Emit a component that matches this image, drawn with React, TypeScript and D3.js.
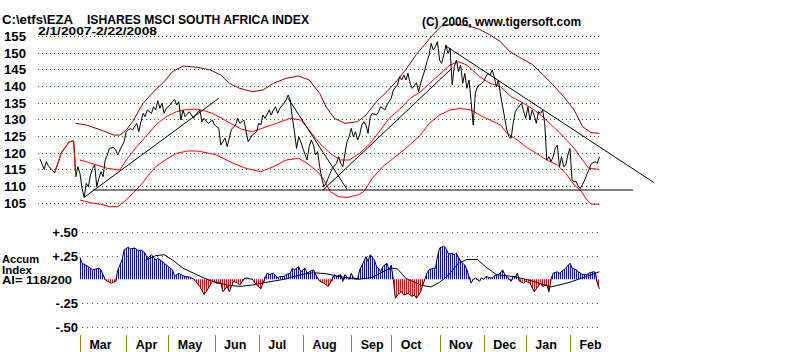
import React from 'react';
import * as d3 from 'd3';

const W = 800;
const H = 352;

// ---- Price series (trading day index from 2/1/2007, close) ----
const priceDays = [0, 2, 3, 4, 7, 9, 10, 12, 14, 16, 17, 18, 19, 20, 21, 22, 23, 24, 25, 26, 27, 28, 29, 30, 31, 32, 33, 35, 36, 37, 38, 40, 41, 43, 44, 46, 47, 48, 49, 50, 51, 53, 54, 55, 56, 57, 58, 59, 60, 62, 63, 64, 65, 66, 67, 68, 69, 71, 73, 74, 76, 77, 78, 80, 82, 83, 85, 86, 88, 89, 91, 93, 94, 95, 97, 98, 99, 101, 103, 104, 105, 106, 107, 109, 110, 111, 112, 113, 114, 116, 117, 118, 119, 120, 121, 122, 123, 124, 125, 127, 128, 129, 130, 131, 132, 133, 134, 135, 136, 137, 138, 139, 141, 142, 143, 144, 145, 146, 147, 148, 149, 150, 151, 152, 153, 154, 155, 156, 157, 158, 160, 161, 162, 164, 165, 166, 167, 168, 170, 171, 172, 173, 174, 175, 176, 177, 179, 180, 181, 183, 184, 185, 186, 187, 188, 189, 190, 191, 192, 193, 194, 195, 196, 197, 198, 199, 200, 201, 202, 203, 204, 205, 206, 207, 208, 210, 211, 212, 213, 214, 215, 216, 217, 218, 219, 220, 221, 222, 223, 224, 225, 226, 227, 229, 230, 231, 232, 233, 234, 235, 236, 237, 238, 239, 240, 241, 242, 243, 244, 245, 246, 247, 248, 249, 250, 251, 252, 253, 254, 255, 256, 257, 258, 259, 260, 261, 262, 263, 264, 265, 266];
const priceValues = [118.1, 115.0, 117.3, 116.0, 114.0, 117.8, 119.8, 121.6, 123.3, 123.5, 112.8, 115.8, 113.8, 109.3, 106.6, 110.8, 109.8, 113.3, 115.3, 116.3, 109.8, 112.3, 114.3, 112.8, 117.8, 119.3, 121.3, 121.6, 120.8, 119.3, 120.8, 123.3, 126.3, 127.3, 126.8, 128.8, 126.3, 129.3, 131.8, 130.8, 132.8, 131.8, 133.8, 132.8, 135.6, 133.3, 134.8, 131.8, 133.3, 134.3, 135.3, 136.0, 134.3, 135.3, 129.8, 132.8, 130.8, 132.3, 130.3, 131.3, 132.8, 129.3, 130.3, 128.8, 129.8, 128.3, 127.3, 122.3, 124.4, 121.8, 127.0, 128.3, 130.3, 128.8, 129.8, 126.3, 123.3, 125.3, 126.3, 128.8, 128.3, 131.3, 130.3, 132.8, 131.3, 132.8, 133.8, 131.8, 133.3, 134.8, 135.8, 137.3, 135.8, 130.3, 126.3, 121.3, 124.8, 123.3, 121.3, 117.8, 121.8, 123.8, 122.3, 119.3, 120.3, 115.8, 112.3, 109.8, 110.8, 112.3, 113.8, 115.3, 116.8, 118.8, 116.8, 115.8, 119.8, 123.3, 124.8, 127.3, 124.8, 126.3, 123.8, 125.3, 128.3, 129.3, 128.3, 125.8, 130.8, 131.8, 131.3, 132.3, 133.8, 132.8, 134.3, 135.3, 136.3, 138.8, 140.3, 142.8, 141.8, 143.3, 141.8, 143.8, 140.8, 139.3, 141.0, 138.3, 140.8, 144.8, 147.3, 149.3, 152.8, 150.8, 151.8, 153.3, 147.8, 146.8, 149.3, 152.3, 149.8, 151.3, 140.3, 145.8, 147.8, 144.3, 146.3, 140.8, 143.8, 139.3, 141.8, 135.3, 128.3, 137.8, 139.8, 140.8, 141.3, 142.8, 143.8, 143.3, 144.8, 142.8, 139.8, 141.8, 137.3, 133.8, 130.3, 126.8, 124.8, 124.3, 128.8, 132.3, 133.3, 134.8, 132.3, 130.3, 133.8, 129.8, 132.8, 131.3, 128.8, 132.3, 131.8, 132.8, 128.8, 117.8, 118.8, 117.3, 118.8, 121.3, 122.3, 115.8, 118.8, 115.8, 116.3, 119.3, 121.3, 111.8, 111.3, 111.3, 109.8, 109.3, 110.5, 111.8, 113.5, 114.8, 116.5, 117.0, 117.3, 116.8, 118.8];
const highlightFrom = 7;
const highlightTo = 17;

// ---- Bands ----
const upperDays = [17, 22, 29, 35, 38, 41, 44, 49, 54, 59, 63, 68, 75, 81, 86, 90, 95, 101, 106, 111, 117, 123, 128, 133, 136, 140, 145, 151, 155, 160, 165, 170, 174, 179, 183, 187, 191, 197, 204, 209, 214, 219, 223, 228, 234, 239, 244, 249, 254, 258, 262, 266];
const upperValues = [128.8, 128.3, 126.8, 125.3, 125.3, 126.8, 129.3, 134.8, 138.3, 141.3, 144.3, 146.0, 145.6, 144.8, 143.3, 140.8, 139.3, 138.3, 138.8, 140.8, 142.3, 143.0, 141.8, 137.8, 133.8, 130.3, 128.8, 129.3, 131.3, 135.3, 138.3, 141.8, 145.0, 149.5, 152.5, 155.5, 158.0, 158.6, 158.0, 157.0, 155.3, 153.3, 150.5, 148.6, 146.5, 143.5, 140.3, 136.8, 132.8, 127.8, 126.0, 125.8];
const midDays = [19, 22, 27, 32, 38, 41, 46, 51, 55, 60, 65, 70, 75, 78, 82, 86, 90, 96, 101, 111, 119, 124, 128, 133, 138, 143, 147, 152, 157, 162, 166, 171, 176, 181, 187, 195, 199, 203, 209, 214, 219, 224, 230, 235, 239, 244, 249, 254, 258, 261, 266];
const midValues = [117.8, 117.3, 116.3, 115.3, 114.8, 117.8, 121.8, 125.3, 128.3, 130.8, 132.3, 133.0, 133.0, 132.6, 131.8, 130.5, 129.0, 127.0, 126.3, 128.5, 130.3, 129.8, 126.8, 122.8, 119.8, 117.8, 117.8, 119.8, 122.8, 126.8, 130.3, 133.0, 136.3, 138.3, 141.8, 146.3, 147.3, 146.3, 142.8, 140.8, 139.8, 136.8, 134.8, 132.8, 130.8, 127.8, 124.8, 121.3, 117.8, 115.3, 115.0];
const lowerDays = [19, 24, 29, 33, 37, 41, 44, 48, 51, 55, 60, 65, 70, 75, 79, 84, 87, 92, 98, 105, 111, 117, 123, 127, 132, 135, 138, 142, 146, 151, 154, 158, 163, 168, 174, 181, 185, 190, 195, 200, 205, 209, 214, 219, 222, 227, 231, 236, 241, 246, 250, 254, 257, 260, 262, 266];
const lowerValues = [105.8, 105.0, 104.5, 103.8, 103.8, 105.8, 107.8, 110.3, 112.8, 115.8, 118.0, 119.8, 120.5, 120.5, 120.0, 119.3, 118.3, 116.8, 115.3, 114.3, 115.8, 117.8, 118.3, 116.8, 114.3, 111.8, 108.3, 106.8, 106.6, 107.3, 108.3, 112.3, 115.8, 118.3, 121.3, 125.3, 128.8, 131.3, 132.8, 133.3, 132.8, 131.3, 129.8, 128.3, 125.8, 123.8, 121.8, 119.8, 117.8, 116.3, 113.8, 110.3, 108.8, 105.8, 104.6, 104.5];

// ---- Trend lines (day, price) ----
const trendStartDays = [21, 25, 134.6, 118, 193];
const trendStartValues = [106.6, 108.8, 108.8, 136.3, 152.0];
const trendEndDays = [85, 282, 196, 146, 292];
const trendEndValues = [136.3, 108.8, 145.4, 109.0, 111.0];

// ---- Accumulation index ----
const accumDays = [19, 20, 23, 25, 28, 29, 31, 32, 34, 36, 37, 39, 40, 42, 43, 45, 47, 48, 50, 51, 53, 55, 56, 58, 59, 61, 63, 64, 66, 67, 69, 71, 73, 74, 76, 78, 79, 81, 82, 84, 86, 87, 89, 90, 92, 94, 95, 97, 98, 100, 101, 103, 105, 106, 108, 109, 111, 113, 114, 116, 117, 119, 120, 121, 123, 124, 126, 127, 128, 130, 132, 133, 135, 137, 138, 140, 141, 143, 144, 145, 147, 148, 149, 151, 152, 154, 155, 156, 157, 159, 160, 161, 162, 163, 165, 166, 167, 168, 169, 170, 172, 173, 175, 177, 178, 179, 181, 182, 183, 184, 185, 187, 188, 189, 190, 192, 193, 194, 195, 196, 197, 198, 200, 201, 202, 203, 204, 205, 206, 207, 209, 210, 211, 212, 214, 215, 217, 218, 220, 221, 222, 224, 225, 226, 227, 228, 230, 231, 233, 235, 236, 238, 239, 241, 242, 243, 244, 246, 247, 249, 250, 252, 253, 255, 256, 258, 260, 261, 263, 264, 265, 266];
const accumValues = [0.234, 0.17, 0.135, 0.10, 0.118, 0.10, -0.005, -0.02, -0.04, -0.02, 0.10, 0.205, 0.31, 0.34, 0.32, 0.33, 0.30, 0.31, 0.275, 0.22, 0.26, 0.205, 0.22, 0.19, 0.17, 0.135, 0.10, 0.03, 0.065, 0.05, 0.03, 0.025, 0.005, -0.02, -0.075, -0.16, -0.13, -0.06, -0.02, -0.04, -0.04, -0.13, -0.075, -0.13, -0.02, -0.04, -0.06, 0.005, 0.015, 0.005, 0.0, -0.06, -0.10, -0.04, 0.065, 0.05, 0.065, 0.015, 0.03, 0.03, 0.05, 0.065, 0.118, 0.10, 0.135, 0.08, 0.118, 0.065, 0.08, 0.10, 0.013, -0.02, -0.04, -0.075, -0.04, 0.05, 0.03, 0.05, -0.02, 0.05, 0.0, 0.065, 0.015, 0.005, 0.10, 0.19, 0.24, 0.19, 0.26, 0.205, 0.135, 0.118, 0.08, 0.135, 0.17, 0.10, 0.15, 0.0, -0.20, -0.165, -0.13, -0.165, -0.15, -0.18, -0.165, -0.20, -0.13, -0.06, 0.0, 0.065, 0.10, 0.118, 0.118, 0.24, 0.33, 0.35, 0.33, 0.275, 0.27, 0.275, 0.26, 0.275, 0.19, 0.17, 0.15, 0.10, 0.03, -0.04, 0.0, 0.015, -0.02, 0.015, 0.0, 0.03, 0.015, 0.015, 0.05, 0.05, 0.10, 0.05, 0.03, -0.02, 0.03, 0.03, 0.065, -0.02, -0.04, -0.02, -0.04, -0.13, -0.10, -0.04, -0.075, -0.06, -0.13, 0.0, 0.065, 0.08, 0.065, 0.10, 0.118, 0.17, 0.118, 0.10, 0.08, 0.05, 0.05, 0.065, 0.08, 0.075, -0.04, -0.10];
const accumMaDays = [50, 55, 59, 63, 68, 73, 78, 82, 89, 95, 101, 108, 116, 124, 130, 136, 142, 151, 158, 163, 167, 170, 174, 181, 186, 190, 194, 199, 203, 208, 212, 217, 225, 233, 243, 252, 261, 266];
const accumMaValues = [0.20, 0.25, 0.26, 0.205, 0.118, 0.065, 0.013, -0.02, -0.06, -0.075, -0.06, -0.03, 0.0, 0.05, 0.07, 0.06, 0.03, 0.0, 0.02, 0.08, 0.12, 0.11, 0.01, -0.06, -0.08, -0.03, 0.04, 0.17, 0.21, 0.21, 0.13, 0.05, 0.03, -0.01, -0.08, -0.03, 0.04, 0.08];

// ---- Axes ----
const priceTicks = [155, 150, 145, 140, 135, 130, 125, 120, 115, 110, 105];
const accumTicks = [0.5, 0.25, -0.25, -0.5];
const accumTickLabels = ['+.50', '+.25', '-.25', '-.50'];
const months = ['Mar', 'Apr', 'May', 'Jun', 'Jul', 'Aug', 'Sep', 'Oct', 'Nov', 'Dec', 'Jan', 'Feb'];
const monthStartDays = [19, 41, 61, 83, 104, 125, 148, 167, 190, 211, 231, 252];

const FONT = '"Liberation Sans", Arial, Helvetica, sans-serif';

export default function App() {
  const x = d3.scaleLinear().domain([0, 266]).range([40, 599.4]);
  const yP = d3.scaleLinear().domain([105, 155]).range([202.7, 36]);
  const yA = d3.scaleLinear().domain([-0.5, 0.5]).range([326.7, 232]);

  const pts = (days: number[], vals: number[]) => days.map((d, i) => [d, vals[i]] as [number, number]);
  const priceLine = d3.line<[number, number]>().x(d => x(d[0])).y(d => yP(d[1]));
  const accLine = d3.line<[number, number]>().x(d => x(d[0])).y(d => yA(d[1]));

  const price = pts(priceDays, priceValues);
  const highlight = price.filter(p => p[0] >= highlightFrom && p[0] <= highlightTo);
  const accum = pts(accumDays, accumValues);

  const posArea = d3.area<[number, number]>()
    .x(d => x(d[0])).y0(yA(0)).y1(d => yA(Math.max(0, d[1])));
  const negArea = d3.area<[number, number]>()
    .x(d => x(d[0])).y0(yA(0)).y1(d => yA(Math.min(0, d[1])));

  const bold = { fontFamily: FONT, fontWeight: 700 as const };

  return (
    <svg width={W} height={H} style={{ position: 'absolute', left: 0, top: 0, background: '#fff', display: 'block' }}>
      <defs>
        <pattern id="blueHatch" width={2} height={4} patternUnits="userSpaceOnUse">
          <rect x={0} y={0} width={1} height={4} fill="#0000ff" />
        </pattern>
        <pattern id="redHatch" width={2} height={4} patternUnits="userSpaceOnUse">
          <rect x={0} y={0} width={1} height={4} fill="#ff0000" />
        </pattern>
      </defs>
      <rect x={0} y={0} width={W} height={H} fill="#fff" />

      {/* price grid */}
      {priceTicks.map(t => {
        const y = Math.round(yP(t)) + 0.5;
        return (
          <g key={'pg' + t}>
            <line x1={38} x2={600} y1={y} y2={y} stroke="#008000" strokeDasharray="1 3" shapeRendering="crispEdges" />
            <text x={4} y={yP(t) + 5} fontSize={13} textLength={22} lengthAdjust="spacingAndGlyphs" {...bold}>{t}</text>
          </g>
        );
      })}

      {/* accum grid */}
      {accumTicks.map((t, i) => {
        const y = Math.round(yA(t)) + 0.5;
        return (
          <g key={'ag' + t}>
            <line x1={82} x2={600} y1={y} y2={y} stroke="#8a3c8a" strokeDasharray="1 4" shapeRendering="crispEdges" />
            <text x={78} y={yA(t) + 5} fontSize={13} textAnchor="end" {...bold}>{accumTickLabels[i]}</text>
          </g>
        );
      })}

      {/* bands */}
      <path d={priceLine(pts(upperDays, upperValues)) || ''} fill="none" stroke="#8b0000" strokeWidth={1} />
      <path d={priceLine(pts(midDays, midValues)) || ''} fill="none" stroke="#ff0000" strokeWidth={1} />
      <path d={priceLine(pts(lowerDays, lowerValues)) || ''} fill="none" stroke="#ff0000" strokeWidth={1} />

      {/* trend lines */}
      {trendStartDays.map((d, i) => (
        <line key={'tl' + i} x1={x(d)} y1={yP(trendStartValues[i])} x2={x(trendEndDays[i])} y2={yP(trendEndValues[i])}
          stroke="#000" strokeWidth={1} />
      ))}

      {/* price */}
      <path d={priceLine(price) || ''} fill="none" stroke="#000" strokeWidth={1} />
      <path d={priceLine(highlight) || ''} fill="none" stroke="#ff0000" strokeWidth={1} />

      {/* accumulation index */}
      <path d={posArea(accum) || ''} fill="url(#blueHatch)" />
      <path d={negArea(accum) || ''} fill="url(#redHatch)" />
      <path d={accLine(accum) || ''} fill="none" stroke="#000" strokeWidth={1} />
      <path d={accLine(pts(accumMaDays, accumMaValues)) || ''} fill="none" stroke="#000" strokeWidth={1} />

      {/* month axis */}
      {monthStartDays.map((d, i) => (
        <g key={'m' + i}>
          <line x1={Math.round(x(d)) + 0.5} x2={Math.round(x(d)) + 0.5} y1={335} y2={352} stroke="#8c8c14" strokeWidth={1} />
          <text x={x(d) + 9.5} y={348.5} fontSize={12.5} {...bold}>{months[i]}</text>
        </g>
      ))}

      {/* titles */}
      <text x={2} y={24} fontSize={13} textLength={71} lengthAdjust="spacingAndGlyphs" {...bold}>{'C:\\etfs\\EZA'}</text>
      <text x={87} y={24} fontSize={13} textLength={222} lengthAdjust="spacingAndGlyphs" {...bold}>ISHARES MSCI SOUTH AFRICA INDEX</text>
      <text x={38} y={35} fontSize={10.5} textLength={119} lengthAdjust="spacingAndGlyphs" {...bold}>2/1/2007-2/22/2008</text>
      <text x={422} y={25.5} fontSize={13} textLength={159} lengthAdjust="spacingAndGlyphs" {...bold}>(C) 2006, www.tigersoft.com</text>

      <text x={2} y={263} fontSize={10.5} textLength={37} lengthAdjust="spacingAndGlyphs" {...bold}>Accum</text>
      <text x={2} y={273.5} fontSize={10.5} textLength={30} lengthAdjust="spacingAndGlyphs" {...bold}>Index</text>
      <text x={2} y={284} fontSize={10.5} textLength={70} lengthAdjust="spacingAndGlyphs" {...bold}>AI= 118/200</text>
    </svg>
  );
}
